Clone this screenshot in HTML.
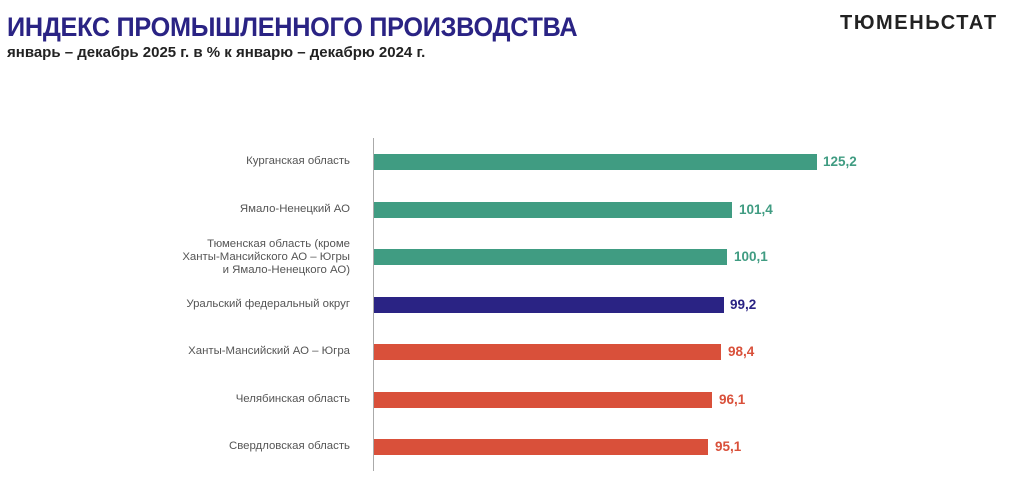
<!DOCTYPE html>
<html><head><meta charset="utf-8"><style>
body{margin:0;width:1024px;height:493px;background:#fff;position:relative;overflow:hidden;font-family:"Liberation Sans",sans-serif}
.t{position:absolute;left:7px;top:12px;font-size:27px;font-weight:bold;color:#2a2384;letter-spacing:-0.3px;transform:scaleX(0.935);transform-origin:left}
.s{position:absolute;left:7px;top:44px;font-size:15px;font-weight:bold;color:#222}
.logo{position:absolute;left:840px;top:12px;font-size:20px;font-weight:900;color:#222;letter-spacing:1.6px}
.ax{position:absolute;left:373px;top:138px;width:1px;height:333px;background:#aaa}
.b{position:absolute;left:374px;height:16px}
.l{position:absolute;right:674px;font-size:11.4px;color:#555;text-align:right;line-height:13px}
.v{position:absolute;font-size:13.5px;font-weight:bold}
.g{background:#409c82}.gv{color:#409c82}
.u{background:#2a2384}.uv{color:#2a2384}
.r{background:#d9503a}.rv{color:#d9503a}
</style></head><body>
<div class="t">ИНДЕКС ПРОМЫШЛЕННОГО ПРОИЗВОДСТВА</div>
<div class="s">январь – декабрь 2025 г. в % к январю – декабрю 2024 г.</div>
<div class="logo">ТЮМЕНЬСТАТ</div>
<div class="ax"></div>

<div class="l" style="top:155px">Курганская область</div>
<div class="b g" style="top:154px;width:443px"></div>
<div class="v gv" style="left:823px;top:154px">125,2</div>

<div class="l" style="top:203px">Ямало-Ненецкий АО</div>
<div class="b g" style="top:202px;width:358px"></div>
<div class="v gv" style="left:739px;top:202px">101,4</div>

<div class="l" style="top:238px">Тюменская область (кроме<br>Ханты-Мансийского АО – Югры<br>и Ямало-Ненецкого АО)</div>
<div class="b g" style="top:249px;width:353px"></div>
<div class="v gv" style="left:734px;top:249px">100,1</div>

<div class="l" style="top:298px">Уральский федеральный округ</div>
<div class="b u" style="top:297px;width:350px"></div>
<div class="v uv" style="left:730px;top:297px">99,2</div>

<div class="l" style="top:345px">Ханты-Мансийский АО – Югра</div>
<div class="b r" style="top:344px;width:347px"></div>
<div class="v rv" style="left:728px;top:344px">98,4</div>

<div class="l" style="top:393px">Челябинская область</div>
<div class="b r" style="top:392px;width:338px"></div>
<div class="v rv" style="left:719px;top:392px">96,1</div>

<div class="l" style="top:440px">Свердловская область</div>
<div class="b r" style="top:439px;width:334px"></div>
<div class="v rv" style="left:715px;top:439px">95,1</div>
</body></html>
